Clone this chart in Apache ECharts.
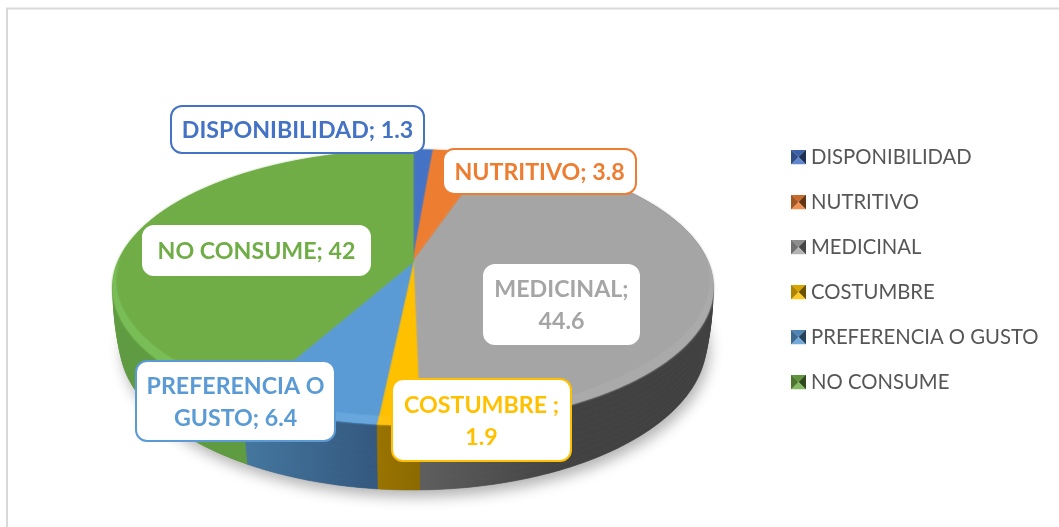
<!DOCTYPE html>
<html><head><meta charset="utf-8">
<style>html,body{margin:0;padding:0;background:#fff}#c{width:1059px;height:527px}</style>
<script src="https://cdn.jsdelivr.net/npm/echarts@6/dist/echarts.min.js"></script>
</head><body><div id="c"></div>
<script>
const categories = ['DISPONIBILIDAD','NUTRITIVO','MEDICINAL','COSTUMBRE','PREFERENCIA O GUSTO','NO CONSUME'];
const values = [1.3,3.8,44.6,1.9,6.4,42];
const labelLines = [['DISPONIBILIDAD; 1.3'],['NUTRITIVO; 3.8'],['MEDICINAL;','44.6'],['COSTUMBRE ;','1.9'],['PREFERENCIA O','GUSTO; 6.4'],['NO CONSUME; 42']];
const colors = ['#4472c4','#ed7d31','#a5a5a5','#ffc000','#5b9bd5','#70ad47'];
const rimColors = ['#5f8ad6','#f59a5c','#aaaaaa','#ffc30f','#68a6de','#78bd55'];
const sideStops = [
  ['#2f5597','#2f5597'],['#ae5a21','#ae5a21'],['#5e5e5e','#424242','#404040'],
  ['#9a7400','#8c6a00'],['#44779f','#34587f'],['#5f9b40','#5f9b40']];
const labelBoxes = [
  [171,106,253,47,'#4472c4'],[443,149,193,45,'#ed7d31'],[484,265,155,79,null],
  [392,379,179,82,'#ffc000'],[136,361,199,80,'#5b9bd5'],[143,226,227,49,null]];

const P = {ax:413, ay:262, R:295, B:132.8, k:0.185, D:53, baseX:0.978, strips:10};
const total = values.reduce((a,b)=>a+b,0);
function angles(i){
  let s=0; for(let j=0;j<i;j++) s+=values[j];
  return [s/total*2*Math.PI,(s+values[i])/total*2*Math.PI];
}
function proj(t,r,f){
  f=f||0;
  const u=Math.sin(t)*r, v=-Math.cos(t)*r, s=1/(1-P.k*v);
  return [P.ax+P.R*u*s*(1-(1-P.baseX)*f*f), P.ay+P.B*v*s+P.D*s*f];
}
function steps(a,b){
  const n=Math.max(2,Math.ceil((b-a)/0.012)), out=[];
  for(let i=0;i<=n;i++) out.push(a+(b-a)*i/n);
  return out;
}
function bevel(t){ return 0.04*Math.min(1,Math.max(0,(-Math.cos(t)+0.05)/0.8)); }
function renderSlice(params,api){
  const i=params.seriesIndex-1, v=api.value(0);
  let [a]=angles(i); const b=a+v/total*2*Math.PI;
  const ts=steps(a,b);
  const top=[[P.ax,P.ay]].concat(ts.map(t=>proj(t,1)));
  const rim=ts.map(t=>proj(t,1)).concat(ts.slice().reverse().map(t=>proj(t,1-bevel(t))));
  const xs=ts.map(t=>proj(t,1)[0]);
  const stops=sideStops[i].map((c,k,l)=>({offset:k/(l.length-1),color:c}));
  const fill=new echarts.graphic.LinearGradient(Math.min(...xs),0,Math.max(...xs),0,stops,true);
  const [bx,by,bw,bh,bc]=labelBoxes[i];
  const lines=labelLines[i];
  const kids=[];
  for(let s=0;s<P.strips;s++){
    const f0=s/P.strips, f1=(s+1)/P.strips;
    kids.push({type:'polygon',z2:1,shape:{points:ts.map(t=>proj(t,1,f0)).concat(ts.slice().reverse().map(t=>proj(t,1,f1)))},
      style:{fill:fill,stroke:fill,lineWidth:0.6}});
  }
  kids.push(
    {type:'polygon',z2:2,shape:{points:top},style:{fill:colors[i],stroke:colors[i],lineWidth:0.6,shadowBlur:2,shadowColor:colors[i]}},
    {type:'polygon',z2:3,shape:{points:rim},style:{fill:rimColors[i],shadowBlur:2,shadowColor:rimColors[i]}},
    {type:'rect',z2:10,shape:{x:bx,y:by,width:bw,height:bh,r:11},style:{fill:'#fff',stroke:bc||'#fff',lineWidth:2}}
  );
  const lh=32, y0=by+bh/2+1.5-(lines.length-1)*lh/2;
  lines.forEach((ln,k)=>kids.push({type:'text',z2:11,style:{
    text:ln,x:bx+bw/2,y:y0+k*lh,fill:colors[i],align:'center',verticalAlign:'middle',
    font:'bold 23.2px Lato, sans-serif'}}));
  return {type:'group',children:kids};
}
function renderBase(){
  const ts=steps(0,2*Math.PI);
  return {type:'polygon',z2:0,shape:{points:ts.map(t=>proj(t,1,1))},
    style:{fill:'#777',shadowBlur:14,shadowColor:'rgba(0,0,0,0.3)',shadowOffsetY:7,shadowOffsetX:3}};
}
function shade(hex,f){
  const n=parseInt(hex.slice(1),16);
  const c=[n>>16,(n>>8)&255,n&255].map(x=>Math.round(f<1?x*f:x+(255-x)*(f-1)));
  return 'rgb('+c.join(',')+')';
}
function icon(c){
  const svg='<svg xmlns="http://www.w3.org/2000/svg" width="15" height="15" viewBox="0 0 15 15">'+
    '<polygon points="0,0 15,0 7.5,7.5" fill="'+shade(c,0.85)+'"/>'+
    '<polygon points="15,0 15,15 7.5,7.5" fill="'+shade(c,0.42)+'"/>'+
    '<polygon points="0,15 15,15 7.5,7.5" fill="'+shade(c,1.15)+'"/>'+
    '<polygon points="0,0 0,15 7.5,7.5" fill="'+shade(c,0.68)+'"/></svg>';
  return 'image://data:image/svg+xml;charset=utf-8,'+encodeURIComponent(svg);
}
const chart=echarts.init(document.getElementById('c'),null,{renderer:'canvas'});
chart.setOption({
  animation:false,
  backgroundColor:'#fff',
  graphic:[{type:'rect',silent:true,shape:{x:7,y:8.5,width:1200,height:700},
    style:{fill:'none',stroke:'#d9d9d9',lineWidth:2}}],
  legend:{
    orient:'vertical',left:791,top:147,padding:0,itemWidth:15,itemHeight:15,itemGap:25,
    selectedMode:false,
    textStyle:{color:'#565656',fontSize:20.3,fontFamily:'Lato, sans-serif'},
    data:categories.map((n,i)=>({name:n,icon:icon(colors[i])}))
  },
  series:[{type:'custom',name:'base',coordinateSystem:'none',silent:true,z:1,data:[[0]],renderItem:renderBase}]
    .concat(categories.map((n,i)=>({
      type:'custom',name:n,coordinateSystem:'none',z:2,silent:true,
      itemStyle:{color:colors[i]},data:[[values[i]]],renderItem:renderSlice})))
});
</script></body></html>
